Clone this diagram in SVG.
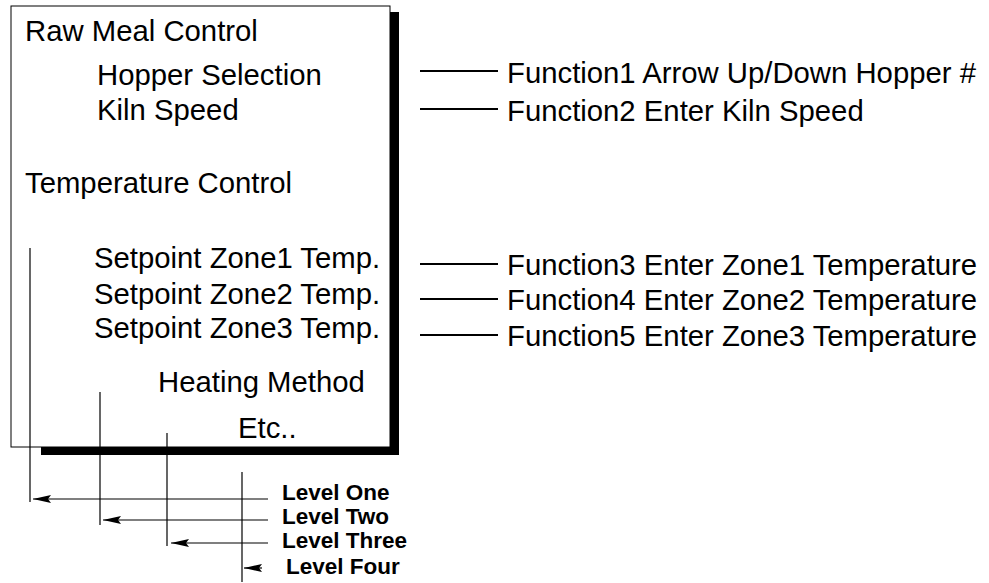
<svg xmlns="http://www.w3.org/2000/svg" width="989" height="583" viewBox="0 0 989 583">
<style>
.t{font-family:"Liberation Sans",Arial,sans-serif;font-size:29.3px;fill:#000}
.lv{font-family:"Liberation Sans",Arial,sans-serif;font-size:22.5px;font-weight:bold;fill:#000}
.ln{stroke:#000;stroke-width:1.2;fill:none}
.fl{stroke:#000;stroke-width:2;fill:none}
</style>
<defs>
<marker id="ah" viewBox="0 0 18 9" refX="18" refY="4.5" markerWidth="18" markerHeight="9" markerUnits="userSpaceOnUse" orient="auto">
<path d="M18,4.5 L0,0.5 L3,4.5 L0,8.5 Z" fill="#000"/>
</marker>
</defs>
<g id="menu-box">
<rect x="390" y="12" width="9" height="443" fill="#000"/>
<rect x="41" y="447" width="358" height="8" fill="#000"/>
<rect x="11" y="6" width="379" height="441" fill="#fff" stroke="#000" stroke-width="1"/>
<text class="t" x="25" y="41">Raw Meal Control</text>
<text class="t" x="97" y="85">Hopper Selection</text>
<text class="t" x="97" y="120">Kiln Speed</text>
<text class="t" x="25" y="193">Temperature Control</text>
<text class="t" x="94" y="268">Setpoint Zone1 Temp.</text>
<text class="t" x="94" y="304">Setpoint Zone2 Temp.</text>
<text class="t" x="94" y="338">Setpoint Zone3 Temp.</text>
<text class="t" x="158" y="392">Heating Method</text>
<text class="t" x="238" y="438">Etc..</text>
</g>
<g id="functions">
<text class="t" x="507" y="83">Function1 Arrow Up/Down Hopper #</text>
<text class="t" x="507" y="121">Function2 Enter Kiln Speed</text>
<text class="t" x="507" y="275">Function3 Enter Zone1 Temperature</text>
<text class="t" x="507" y="310">Function4 Enter Zone2 Temperature</text>
<text class="t" x="507" y="346">Function5 Enter Zone3 Temperature</text>
</g>
<g id="levels">
<text class="lv" x="282" y="500">Level One</text>
<text class="lv" x="282" y="524">Level Two</text>
<text class="lv" x="282" y="548">Level Three</text>
<text class="lv" x="286" y="574">Level Four</text>
</g>
<g id="connectors">
<line class="fl" x1="420" y1="71" x2="498" y2="71"/>
<line class="fl" x1="420" y1="109" x2="498" y2="109"/>
<line class="fl" x1="420" y1="264" x2="498" y2="264"/>
<line class="fl" x1="420" y1="299" x2="498" y2="299"/>
<line class="fl" x1="420" y1="335" x2="498" y2="335"/>
<line class="ln" x1="30" y1="248" x2="30" y2="502"/>
<line class="ln" x1="100" y1="392" x2="100" y2="525"/>
<line class="ln" x1="167" y1="433" x2="167" y2="546"/>
<line class="ln" x1="242" y1="472" x2="242" y2="582"/>
<line class="ln" x1="268" y1="499" x2="33" y2="499" marker-end="url(#ah)"/>
<line class="ln" x1="268" y1="520" x2="103" y2="520" marker-end="url(#ah)"/>
<line class="ln" x1="268" y1="543" x2="171" y2="543" marker-end="url(#ah)"/>
<line class="ln" x1="262" y1="568" x2="244" y2="568" marker-end="url(#ah)"/>
</g>
</svg>
